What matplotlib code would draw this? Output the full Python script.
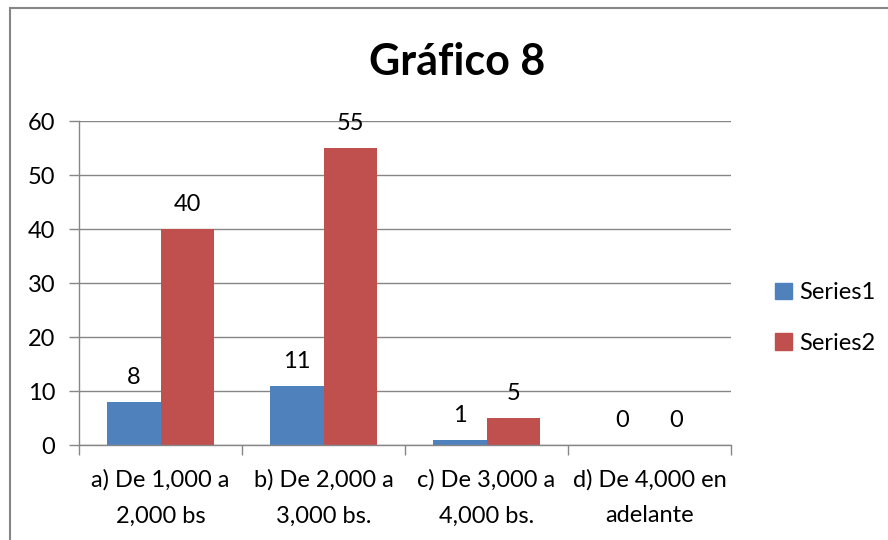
import matplotlib.pyplot as plt
import numpy as np
from matplotlib.patches import Rectangle, Patch

plt.rcParams['font.family'] = ['Lato', 'DejaVu Sans']

categories = ["a) De 1,000 a\n2,000 bs", "b) De 2,000 a\n3,000 bs.",
              "c) De 3,000 a\n4,000 bs.", "d) De 4,000 en\nadelante"]
series1 = [8, 11, 1, 0]
series2 = [40, 55, 5, 0]
y_ticks = [0, 10, 20, 30, 40, 50, 60]

blue = '#4F81BD'
red = '#C0504D'
grid_col = '#868686'

fig = plt.figure(figsize=(8.88, 5.4), dpi=100)
ax = fig.add_axes([79/888, 95/540, 652/888, 324/540])

# outer chart frame (cropped on the right and bottom)
fig.patches.append(Rectangle((10/888, -0.1), 1.1, 0.1 + 532/540, transform=fig.transFigure,
                             fill=False, edgecolor=grid_col, linewidth=1.5))

x = np.arange(len(categories))
w = 0.33
b1 = ax.bar(x - w/2, series1, w, color=blue, label='Series1')
b2 = ax.bar(x + w/2, series2, w, color=red, label='Series2')

for bars in (b1, b2):
    for bar in bars:
        h = bar.get_height()
        ax.annotate(f"{h:g}", (bar.get_x() + bar.get_width()/2, h),
                    xytext=(0, 10), textcoords='offset points',
                    ha='center', va='bottom', fontsize=17)

ax.set_xlim(-0.5, len(categories) - 0.5)
ax.set_ylim(0, 60)
ax.set_yticks(y_ticks)
ax.yaxis.grid(True, color=grid_col, linewidth=1)
ax.set_axisbelow(True)

ax.set_xticks(np.arange(len(categories) + 1) - 0.5)
ax.set_xticklabels([])
ax.set_xticks(x, minor=True)
ax.set_xticklabels(categories, minor=True, fontsize=17, linespacing=1.9)
ax.tick_params(axis='x', which='minor', length=0, pad=17)
ax.tick_params(axis='x', which='major', length=7, color=grid_col, width=1)
ax.tick_params(axis='y', length=7, color=grid_col, width=1, labelsize=17, pad=10)

for side in ['top', 'right']:
    ax.spines[side].set_visible(False)
for side in ['left', 'bottom']:
    ax.spines[side].set_color(grid_col)
    ax.spines[side].set_linewidth(1)

fig.text(457/888, 1 - 62/540, "Gráfico 8", ha='center', va='center',
         fontsize=31, fontweight='bold')

handles = [Patch(color=blue, label='Series1'), Patch(color=red, label='Series2')]
fig.legend(handles=handles, loc='center left', bbox_to_anchor=(754/888, 1 - 318/540),
           frameon=False, fontsize=17, handlelength=0.7, handleheight=0.7,
           handletextpad=0.3, labelspacing=1.25)

plt.savefig("out.png", dpi=100)
